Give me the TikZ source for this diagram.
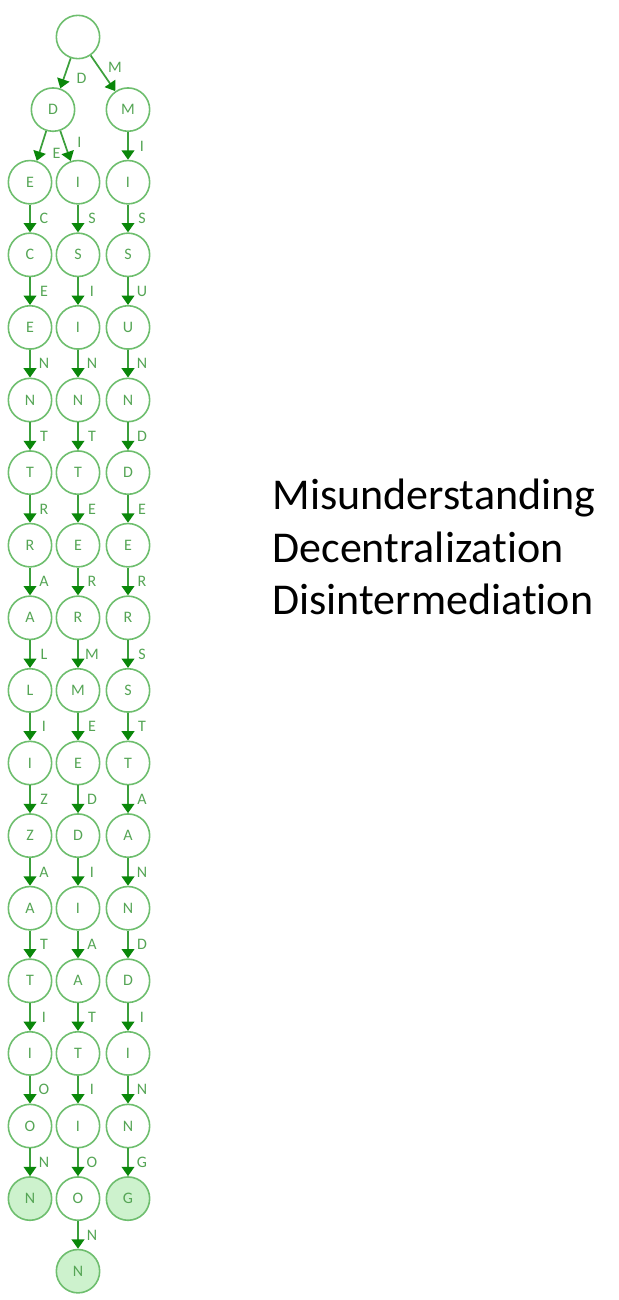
\documentclass[tikz,border=0pt]{standalone}
\usepackage{fontspec}
\setmainfont{Carlito}[Ligatures=NoCommon]
\usetikzlibrary{arrows.meta}

\definecolor{trieline}{RGB}{110,190,110}
\definecolor{triearrow}{RGB}{60,160,60}
\definecolor{triehead}{RGB}{10,135,10}
\definecolor{triefill}{RGB}{205,242,205}
\definecolor{trietext}{RGB}{85,165,85}

\tikzset{every picture/.style={line width=0.75pt}}
\tikzset{
  trienode/.style={circle, draw=trieline, line width=1.2pt, minimum size=32.5pt, inner sep=0pt,
    text=trietext, font=\fontsize{12}{14}\selectfont},
  wordend/.style={trienode, fill=triefill},
  trieedge/.style={draw=triearrow, line width=1.3pt, -{Triangle[length=7pt,width=9.5pt,color=triehead]}},
  trielabel/.style={text=trietext, font=\fontsize{12}{14}\selectfont, inner sep=0pt},
  vlabel/.style={trielabel, midway, shift={(14,0)}},
  wordtext/.style={anchor=base west, inner sep=0pt, font=\fontsize{33}{40}\selectfont}
}

\begin{document}
\begin{tikzpicture}[x=0.75pt,y=0.75pt,yscale=-1,xscale=1]
      \useasboundingbox (0,0) rectangle (618,1300);

      % root and first level
      \node [trienode] (root) at (78,37) {};
      \node [trienode] (d1) at (53,109.6) {D};
      \node [trienode] (m1) at (128,109.6) {M};

      % Decentralization
      \node [trienode] (dec2) at (30,182.2) {E};
      \node [trienode] (dec3) at (30,254.8) {C};
      \node [trienode] (dec4) at (30,327.4) {E};
      \node [trienode] (dec5) at (30,400) {N};
      \node [trienode] (dec6) at (30,472.6) {T};
      \node [trienode] (dec7) at (30,545.2) {R};
      \node [trienode] (dec8) at (30,617.8) {A};
      \node [trienode] (dec9) at (30,690.4) {L};
      \node [trienode] (dec10) at (30,763) {I};
      \node [trienode] (dec11) at (30,835.6) {Z};
      \node [trienode] (dec12) at (30,908.2) {A};
      \node [trienode] (dec13) at (30,980.8) {T};
      \node [trienode] (dec14) at (30,1053.4) {I};
      \node [trienode] (dec15) at (30,1126) {O};
      \node [wordend] (dec16) at (30,1198.6) {N};

      % Disintermediation
      \node [trienode] (dis2) at (78,182.2) {I};
      \node [trienode] (dis3) at (78,254.8) {S};
      \node [trienode] (dis4) at (78,327.4) {I};
      \node [trienode] (dis5) at (78,400) {N};
      \node [trienode] (dis6) at (78,472.6) {T};
      \node [trienode] (dis7) at (78,545.2) {E};
      \node [trienode] (dis8) at (78,617.8) {R};
      \node [trienode] (dis9) at (78,690.4) {M};
      \node [trienode] (dis10) at (78,763) {E};
      \node [trienode] (dis11) at (78,835.6) {D};
      \node [trienode] (dis12) at (78,908.2) {I};
      \node [trienode] (dis13) at (78,980.8) {A};
      \node [trienode] (dis14) at (78,1053.4) {T};
      \node [trienode] (dis15) at (78,1126) {I};
      \node [trienode] (dis16) at (78,1198.6) {O};
      \node [wordend] (dis17) at (78,1271.2) {N};

      % Misunderstanding
      \node [trienode] (mis2) at (128,182.2) {I};
      \node [trienode] (mis3) at (128,254.8) {S};
      \node [trienode] (mis4) at (128,327.4) {U};
      \node [trienode] (mis5) at (128,400) {N};
      \node [trienode] (mis6) at (128,472.6) {D};
      \node [trienode] (mis7) at (128,545.2) {E};
      \node [trienode] (mis8) at (128,617.8) {R};
      \node [trienode] (mis9) at (128,690.4) {S};
      \node [trienode] (mis10) at (128,763) {T};
      \node [trienode] (mis11) at (128,835.6) {A};
      \node [trienode] (mis12) at (128,908.2) {N};
      \node [trienode] (mis13) at (128,980.8) {D};
      \node [trienode] (mis14) at (128,1053.4) {I};
      \node [trienode] (mis15) at (128,1126) {N};
      \node [wordend] (mis16) at (128,1198.6) {G};

      % branching edges
      \draw [trieedge] (root) -- (d1) node [trielabel, midway, shift={(16,-5)}] {D};
      \draw [trieedge] (root) -- (m1) node [trielabel, midway, shift={(12,6)}] {M};
      \draw [trieedge] (d1) -- (dec2) node [trielabel, midway, shift={(15,-7)}] {E};
      \draw [trieedge] (d1) -- (dis2) node [trielabel, midway, shift={(14,4)}] {I};
      \draw [trieedge] (m1) -- (mis2) node [vlabel] {I};

      % Decentralization edges
      \draw [trieedge] (dec2) -- (dec3) node [vlabel] {C};
      \draw [trieedge] (dec3) -- (dec4) node [vlabel] {E};
      \draw [trieedge] (dec4) -- (dec5) node [vlabel] {N};
      \draw [trieedge] (dec5) -- (dec6) node [vlabel] {T};
      \draw [trieedge] (dec6) -- (dec7) node [vlabel] {R};
      \draw [trieedge] (dec7) -- (dec8) node [vlabel] {A};
      \draw [trieedge] (dec8) -- (dec9) node [vlabel] {L};
      \draw [trieedge] (dec9) -- (dec10) node [vlabel] {I};
      \draw [trieedge] (dec10) -- (dec11) node [vlabel] {Z};
      \draw [trieedge] (dec11) -- (dec12) node [vlabel] {A};
      \draw [trieedge] (dec12) -- (dec13) node [vlabel] {T};
      \draw [trieedge] (dec13) -- (dec14) node [vlabel] {I};
      \draw [trieedge] (dec14) -- (dec15) node [vlabel] {O};
      \draw [trieedge] (dec15) -- (dec16) node [vlabel] {N};

      % Disintermediation edges
      \draw [trieedge] (dis2) -- (dis3) node [vlabel] {S};
      \draw [trieedge] (dis3) -- (dis4) node [vlabel] {I};
      \draw [trieedge] (dis4) -- (dis5) node [vlabel] {N};
      \draw [trieedge] (dis5) -- (dis6) node [vlabel] {T};
      \draw [trieedge] (dis6) -- (dis7) node [vlabel] {E};
      \draw [trieedge] (dis7) -- (dis8) node [vlabel] {R};
      \draw [trieedge] (dis8) -- (dis9) node [vlabel] {M};
      \draw [trieedge] (dis9) -- (dis10) node [vlabel] {E};
      \draw [trieedge] (dis10) -- (dis11) node [vlabel] {D};
      \draw [trieedge] (dis11) -- (dis12) node [vlabel] {I};
      \draw [trieedge] (dis12) -- (dis13) node [vlabel] {A};
      \draw [trieedge] (dis13) -- (dis14) node [vlabel] {T};
      \draw [trieedge] (dis14) -- (dis15) node [vlabel] {I};
      \draw [trieedge] (dis15) -- (dis16) node [vlabel] {O};
      \draw [trieedge] (dis16) -- (dis17) node [vlabel] {N};

      % Misunderstanding edges
      \draw [trieedge] (mis2) -- (mis3) node [vlabel] {S};
      \draw [trieedge] (mis3) -- (mis4) node [vlabel] {U};
      \draw [trieedge] (mis4) -- (mis5) node [vlabel] {N};
      \draw [trieedge] (mis5) -- (mis6) node [vlabel] {D};
      \draw [trieedge] (mis6) -- (mis7) node [vlabel] {E};
      \draw [trieedge] (mis7) -- (mis8) node [vlabel] {R};
      \draw [trieedge] (mis8) -- (mis9) node [vlabel] {S};
      \draw [trieedge] (mis9) -- (mis10) node [vlabel] {T};
      \draw [trieedge] (mis10) -- (mis11) node [vlabel] {A};
      \draw [trieedge] (mis11) -- (mis12) node [vlabel] {N};
      \draw [trieedge] (mis12) -- (mis13) node [vlabel] {D};
      \draw [trieedge] (mis13) -- (mis14) node [vlabel] {I};
      \draw [trieedge] (mis14) -- (mis15) node [vlabel] {N};
      \draw [trieedge] (mis15) -- (mis16) node [vlabel] {G};

      % Text Node
      \node [wordtext] (wmis) at (272,509) {Misunderstanding};
      % Text Node
      \node [wordtext] (wdec) at (272,562) {Decentralization};
      % Text Node
      \node [wordtext] (wdis) at (272,614) {Disintermediation};
\end{tikzpicture}
\end{document}
